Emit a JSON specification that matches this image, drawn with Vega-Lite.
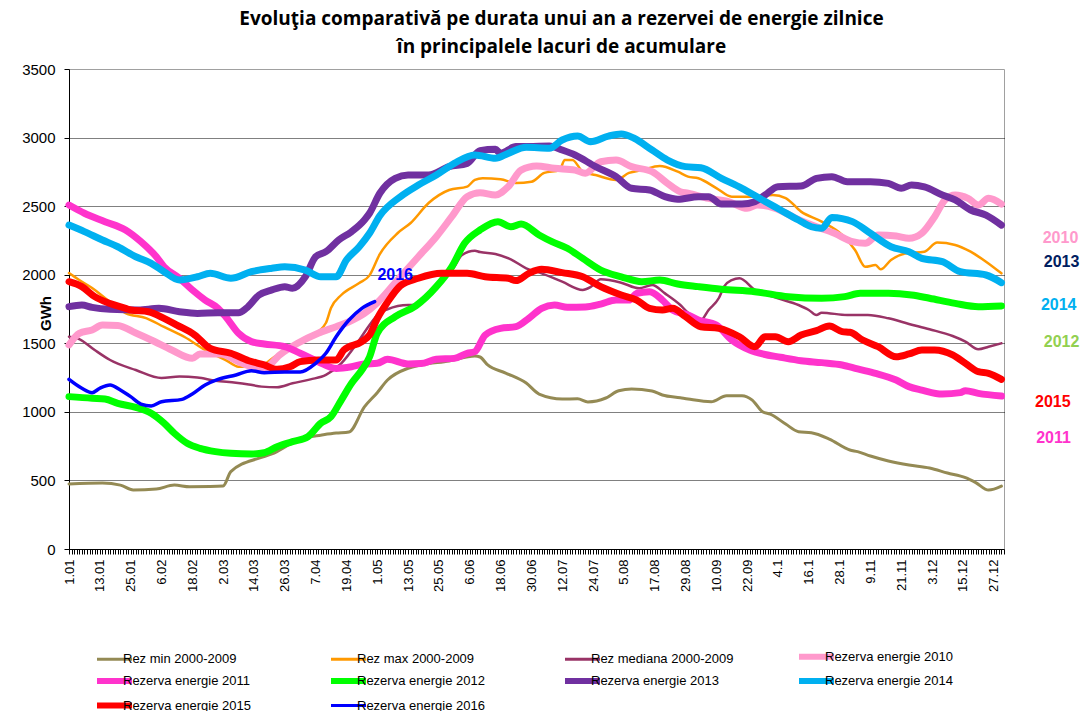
{
  "$schema": "https://vega.github.io/schema/vega-lite/v6.json",
  "width": 935,
  "height": 480,
  "autosize": {"type": "none"},
  "padding": {"left": 69, "top": 69, "right": 81, "bottom": 162},
  "background": "white",
  "config": {"view": {"stroke": "#A0A0A0", "strokeWidth": 1}, "font": "Liberation Sans"},
  "title": {
    "text": ["Evoluţia comparativă pe durata unui an a rezervei de energie zilnice", "în principalele lacuri de acumulare"],
    "font": "Open Sans", "fontSize": 19, "fontWeight": "bold", "color": "#000",
    "anchor": "middle", "dx": 25, "lineHeight": 28, "offset": 5
  },
  "datasets": {
    "series": [
      {"s": "Rez min 2000-2009",
       "d": [0,13,20,25,34,41,47,55,60,63,74,79,87,93,98,104,109,115,120,124,132,137,148,158,160,163,170,178,183,192,198,202,209,214,219,227,231,238,241,250,256,262,266,270,273,279,284,289,296,304,307,312,319,327,335,342,349,353,358,363],
       "v": [474,481,466,430,437,466,454,455,459,564,663,693,773,816,830,845,853,1036,1140,1232,1318,1342,1371,1407,1400,1342,1283,1210,1130,1094,1095,1072,1101,1154,1166,1152,1123,1103,1094,1074,1118,1118,1086,1001,984,911,855,848,802,722,710,678,642,612,590,554,520,484,430,459]},
      {"s": "Rez max 2000-2009",
       "d": [0,4,9,15,22,30,37,45,53,61,66,74,80,87,94,100,102,106,113,117,121,128,133,140,148,155,158,161,168,174,180,185,191,193,196,200,205,213,218,223,230,237,241,245,252,258,267,274,279,285,293,301,306,310,314,316,320,326,333,338,345,351,357,363],
       "v": [2012,1961,1903,1815,1720,1684,1619,1546,1451,1378,1329,1329,1402,1475,1548,1648,1757,1852,1939,1995,2150,2304,2377,2523,2618,2642,2691,2703,2696,2669,2678,2742,2763,2837,2837,2751,2727,2691,2742,2763,2793,2751,2715,2703,2632,2569,2569,2581,2559,2460,2387,2290,2180,2058,2070,2039,2107,2156,2168,2234,2217,2168,2095,2010]},
      {"s": "Rez mediana 2000-2009",
       "d": [0,4,10,16,26,36,43,50,57,65,70,75,81,87,94,100,106,113,117,120,124,132,135,143,150,153,158,160,166,172,178,184,192,200,203,207,215,222,227,232,238,241,246,249,253,255,258,261,267,276,284,288,291,293,303,311,319,327,335,344,349,354,358,363],
       "v": [1548,1531,1451,1378,1305,1247,1257,1250,1227,1213,1200,1184,1180,1208,1237,1269,1354,1524,1633,1706,1748,1779,1779,1913,2058,2144,2175,2165,2151,2112,2047,2010,1949,1889,1910,1967,1942,1901,1925,1864,1779,1723,1670,1743,1830,1913,1961,1974,1889,1828,1779,1743,1706,1723,1706,1706,1682,1641,1602,1553,1512,1456,1475,1500]},
      {"s": "Rezerva energie 2010",
       "d": [0,4,9,13,19,26,32,40,48,51,59,66,71,76,82,89,97,104,109,115,120,129,136,143,149,155,160,166,171,176,182,189,197,201,207,213,219,227,233,238,241,249,257,264,268,275,283,291,298,305,310,315,322,327,332,337,341,345,350,354,358,363],
       "v": [1488,1573,1597,1633,1630,1575,1524,1451,1390,1422,1422,1366,1329,1317,1415,1500,1573,1621,1657,1718,1795,1985,2131,2277,2423,2569,2598,2581,2642,2763,2793,2776,2763,2739,2824,2836,2788,2751,2666,2605,2594,2557,2532,2484,2508,2484,2411,2350,2302,2241,2229,2290,2282,2265,2302,2423,2545,2581,2557,2508,2557,2515]},
      {"s": "Rezerva energie 2011",
       "d": [0,6,14,22,28,34,37,43,48,53,58,61,66,71,76,84,90,97,104,110,115,120,124,132,137,143,150,155,158,162,168,174,179,184,189,194,201,207,213,218,221,226,231,235,241,245,252,258,265,270,277,285,293,301,307,314,322,327,332,340,347,349,354,363],
       "v": [2508,2448,2387,2326,2241,2131,2058,1974,1889,1815,1755,1694,1573,1512,1495,1475,1427,1366,1317,1329,1349,1354,1383,1349,1352,1383,1390,1427,1439,1560,1609,1621,1682,1755,1779,1762,1765,1786,1815,1815,1864,1876,1815,1743,1706,1670,1633,1524,1451,1422,1398,1373,1359,1342,1313,1281,1232,1184,1159,1130,1140,1154,1135,1115]},
      {"s": "Rezerva energie 2012",
       "d": [0,9,14,19,26,32,37,41,46,51,57,63,71,76,81,87,93,98,102,106,110,114,117,120,127,135,143,149,154,160,167,172,176,183,188,194,200,207,215,223,230,237,245,254,267,280,293,302,308,319,328,335,345,354,363],
       "v": [1111,1099,1094,1062,1033,989,917,844,771,734,710,698,693,702,746,783,819,917,965,1086,1208,1305,1400,1573,1694,1773,1913,2058,2229,2326,2387,2350,2369,2290,2241,2193,2119,2034,1985,1949,1961,1932,1913,1894,1876,1840,1828,1840,1864,1864,1852,1828,1791,1767,1772]},
      {"s": "Rezerva energie 2013",
       "d": [0,5,9,16,27,35,43,50,58,66,69,74,79,84,87,92,96,100,105,110,115,117,121,127,132,140,148,155,160,166,168,174,179,187,192,197,205,213,219,226,232,237,245,249,254,262,267,271,276,285,291,297,303,312,319,324,328,333,340,345,351,357,363],
       "v": [1767,1779,1762,1748,1743,1755,1730,1718,1723,1723,1755,1852,1889,1913,1901,1985,2131,2168,2253,2314,2399,2448,2594,2703,2727,2727,2788,2812,2904,2914,2885,2934,2934,2939,2909,2873,2788,2715,2630,2618,2569,2550,2569,2569,2515,2515,2532,2581,2642,2647,2703,2715,2678,2678,2666,2630,2654,2640,2581,2545,2472,2435,2362]},
      {"s": "Rezerva energie 2014",
       "d": [0,6,13,19,26,32,37,43,50,55,63,71,79,84,92,98,104,108,113,117,121,129,136,143,150,158,166,171,178,187,192,198,203,210,215,220,227,233,240,246,254,262,270,277,284,289,293,297,305,312,320,327,332,340,347,357,363],
       "v": [2362,2314,2253,2204,2131,2083,2022,1961,1985,2010,1974,2022,2047,2058,2034,1985,1985,2107,2204,2302,2430,2569,2654,2727,2812,2873,2849,2885,2929,2922,2982,3011,2970,3011,3026,2995,2909,2836,2788,2780,2703,2630,2545,2472,2399,2350,2338,2418,2387,2302,2204,2168,2119,2095,2022,1998,1942]},
      {"s": "Rezerva energie 2015",
       "d": [0,5,10,16,22,24,31,37,42,49,55,63,70,76,81,86,90,97,104,107,114,117,120,124,129,136,145,155,162,171,174,179,184,192,200,207,215,221,226,231,235,240,246,253,261,267,271,275,280,285,291,296,301,304,309,315,322,327,332,337,344,349,354,358,363],
       "v": [1949,1913,1840,1790,1755,1743,1730,1682,1633,1560,1463,1427,1373,1342,1310,1329,1366,1378,1378,1451,1512,1560,1680,1800,1920,1974,2010,2010,1985,1974,1957,2010,2039,2015,1985,1913,1852,1815,1755,1743,1755,1694,1621,1609,1548,1475,1548,1548,1512,1560,1592,1626,1585,1580,1524,1475,1402,1422,1451,1451,1415,1354,1293,1281,1237]},
      {"s": "Rezerva energie 2016",
       "d": [0,5,9,12,16,20,24,28,32,36,44,48,53,58,65,71,76,84,90,96,100,104,109,114,119],
       "v": [1237,1172,1140,1172,1196,1159,1111,1057,1043,1074,1091,1130,1196,1237,1269,1300,1286,1290,1290,1354,1427,1548,1670,1755,1804]}
    ],
    "labels": [
      {"d": 386, "v": 2268, "t": "2010"},
      {"d": 386.4, "v": 2093, "t": "2013"},
      {"d": 385.3, "v": 1779, "t": "2014"},
      {"d": 386.4, "v": 1509, "t": "2012"},
      {"d": 383, "v": 1072, "t": "2015"},
      {"d": 383.3, "v": 809, "t": "2011"},
      {"d": 127, "v": 1998, "t": "2016"}
    ]
  },
  "layer": [
    {
      "data": {"name": "series"},
      "transform": [{"flatten": ["d", "v"]}],
      "mark": {"type": "line", "interpolate": "monotone", "strokeJoin": "round", "strokeCap": "round"},
      "encoding": {
        "x": {
          "field": "d", "type": "quantitative",
          "scale": {"domain": [0, 364], "nice": false, "zero": false},
          "axis": {
            "title": null, "grid": false, "tickCount": 365,
            "labelExpr": "datum.value % 12 == 0 ? ['1.01','13.01','25.01','6.02','18.02','2.03','14.03','26.03','7.04','19.04','1.05','13.05','25.05','6.06','18.06','30.06','12.07','24.07','5.08','17.08','29.08','10.09','22.09','4.1','16.1','28.1','9.11','21.11','3.12','15.12','27.12'][datum.value / 12] : ''",
            "labelAngle": -90, "labelFontSize": 13, "labelFont": "Liberation Sans", "labelColor": "#000",
            "labelPadding": 5, "labelOverlap": false, "labelFlush": false, "labelBound": false,
            "tickSize": 5, "tickColor": "#000", "domainColor": "#000"
          }
        },
        "y": {
          "field": "v", "type": "quantitative",
          "scale": {"domain": [0, 3500], "nice": false},
          "axis": {
            "values": [0, 500, 1000, 1500, 2000, 2500, 3000, 3500], "format": "d",
            "title": "GWh", "titleFont": "Liberation Sans", "titleFontSize": 15, "titleFontWeight": "bold", "titleColor": "#000",
            "titleX": -24, "titleY": 244, "titleAngle": 270, "titleAlign": "center", "titleBaseline": "middle",
            "labelFont": "Liberation Sans", "labelFontSize": 15, "labelColor": "#000", "labelPadding": 9,
            "tickSize": 5, "tickColor": "#000", "domainColor": "#000",
            "grid": true, "gridColor": "#000", "gridDash": [1, 1], "gridWidth": 1,
            "gridOpacity": {"condition": {"test": "datum.value == 0 || datum.value == 3500", "value": 0}, "value": 1}
          }
        },
        "color": {
          "field": "s", "type": "nominal",
          "scale": {
            "domain": ["Rez min 2000-2009", "Rez max 2000-2009", "Rez mediana 2000-2009", "Rezerva energie 2010", "Rezerva energie 2011", "Rezerva energie 2012", "Rezerva energie 2013", "Rezerva energie 2014", "Rezerva energie 2015", "Rezerva energie 2016"],
            "range": ["#948A54", "#FF9900", "#993366", "#FF99CC", "#FF33CC", "#00FF00", "#7030A0", "#00B0F0", "#FF0000", "#0000FF"]
          },
          "legend": {
            "orient": "none", "legendX": 39, "legendY": 581, "direction": "horizontal", "columns": 4,
            "title": null, "symbolType": "stroke", "symbolSize": 1225, "labelFontSize": 13,
            "labelFont": "Liberation Sans", "labelColor": "#000", "columnPadding": 53, "rowPadding": -0.5,
            "gridAlign": "all", "labelOffset": 2, "padding": 0, "labelLimit": 0,
            "encode": {
              "symbols": {
                "update": {
                  "strokeWidth": {"signal": "datum.value == 'Rez min 2000-2009' || datum.value == 'Rez max 2000-2009' || datum.value == 'Rez mediana 2000-2009' || datum.value == 'Rezerva energie 2016' ? 3 : 6"}
                }
              }
            }
          }
        },
        "strokeWidth": {
          "field": "s", "type": "nominal",
          "scale": {
            "type": "ordinal",
            "domain": ["Rez min 2000-2009", "Rez max 2000-2009", "Rez mediana 2000-2009", "Rezerva energie 2010", "Rezerva energie 2011", "Rezerva energie 2012", "Rezerva energie 2013", "Rezerva energie 2014", "Rezerva energie 2015", "Rezerva energie 2016"],
            "range": [3, 2.5, 2.5, 7, 7, 7, 7, 7, 7, 3.5]
          },
          "legend": null
        }
      }
    },
    {
      "data": {"name": "labels"},
      "mark": {"type": "text", "font": "Liberation Sans", "fontWeight": "bold", "fontSize": 16, "align": "center", "baseline": "middle"},
      "encoding": {
        "x": {"field": "d", "type": "quantitative"},
        "y": {"field": "v", "type": "quantitative"},
        "text": {"field": "t"},
        "color": {
          "field": "t", "type": "nominal",
          "scale": {"domain": ["2010", "2011", "2012", "2013", "2014", "2015", "2016"], "range": ["#FF99CC", "#FF33CC", "#92D050", "#002060", "#00B0F0", "#FF0000", "#0000FF"]},
          "legend": null
        }
      }
    }
  ],
  "resolve": {"scale": {"color": "independent"}}
}
